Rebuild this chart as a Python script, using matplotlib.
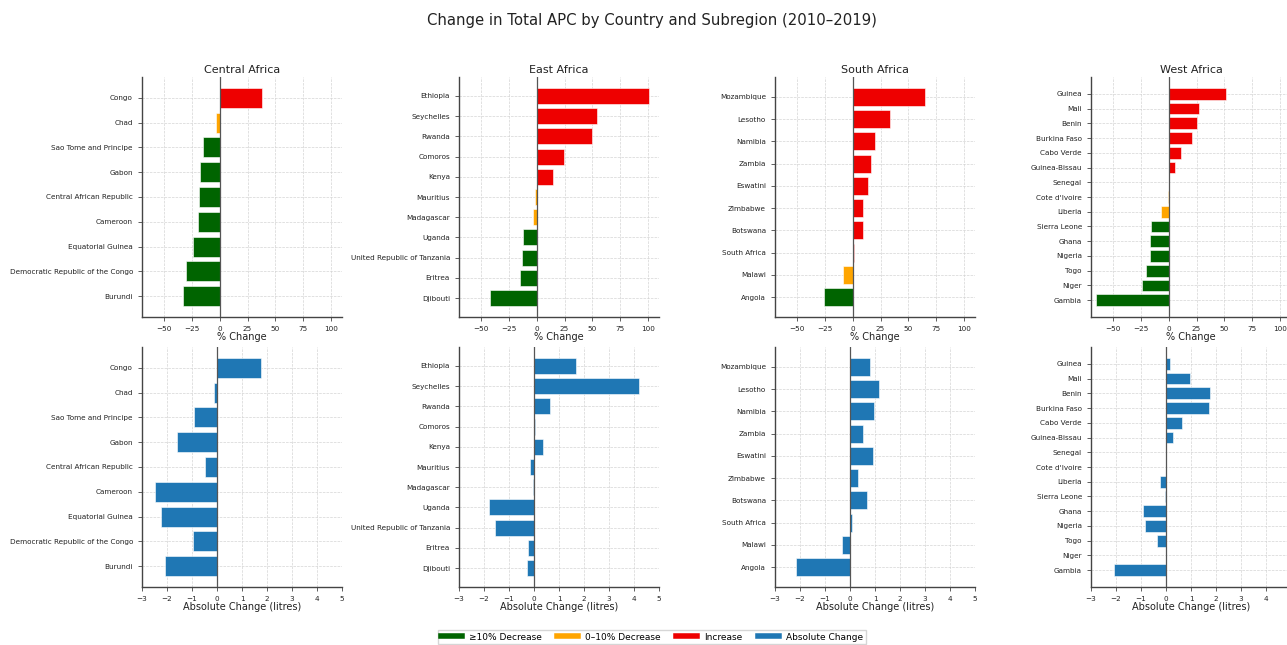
import matplotlib
matplotlib.use("Agg")
import matplotlib.pyplot as plt
from matplotlib.lines import Line2D

# subregion data, ordered as plotted (top to bottom)
regions = ["Central Africa", "East Africa", "South Africa", "West Africa"]

central_countries = ["Congo", "Chad", "Sao Tome and Principe", "Gabon", "Central African Republic",
                     "Cameroon", "Equatorial Guinea", "Democratic Republic of the Congo", "Burundi"]
central_pct = [37.6, -3.0, -15.0, -17.5, -18.7, -19.3, -23.8, -30.7, -32.8]
central_abs = [1.76, -0.14, -0.93, -1.60, -0.47, -2.49, -2.24, -0.96, -2.07]

east_countries = ["Ethiopia", "Seychelles", "Rwanda", "Comoros", "Kenya", "Mauritius", "Madagascar",
                  "Uganda", "United Republic of Tanzania", "Eritrea", "Djibouti"]
east_pct = [100.9, 54.2, 50.0, 24.7, 14.2, -1.8, -3.6, -12.7, -13.6, -15.0, -41.9]
east_abs = [1.67, 4.21, 0.63, 0.04, 0.35, -0.16, -0.04, -1.79, -1.56, -0.23, -0.29]

south_countries = ["Mozambique", "Lesotho", "Namibia", "Zambia", "Eswatini", "Zimbabwe", "Botswana",
                   "South Africa", "Malawi", "Angola"]
south_pct = [65.0, 33.7, 19.6, 16.3, 13.3, 9.6, 9.3, 0.9, -9.0, -25.9]
south_abs = [0.78, 1.15, 0.96, 0.53, 0.93, 0.31, 0.69, 0.08, -0.32, -2.18]

west_countries = ["Guinea", "Mali", "Benin", "Burkina Faso", "Cabo Verde", "Guinea-Bissau", "Senegal",
                  "Cote d'Ivoire", "Liberia", "Sierra Leone", "Ghana", "Nigeria", "Togo", "Niger", "Gambia"]
west_pct = [51.2, 27.4, 25.6, 20.5, 10.8, 6.0, 0.0, -0.5, -6.9, -16.0, -16.6, -16.9, -20.8, -23.8, -65.4]
west_abs = [0.16, 0.97, 1.77, 1.73, 0.65, 0.27, 0.0, 0.0, -0.24, -0.03, -0.91, -0.85, -0.36, -0.01, -2.07]

countries = [central_countries, east_countries, south_countries, west_countries]
pct_vals = [central_pct, east_pct, south_pct, west_pct]
abs_vals = [central_abs, east_abs, south_abs, west_abs]

GREEN = "#006400"
ORANGE = "#FFA500"
RED = "#EE0000"
BLUE = "#1f77b4"


def pct_color(v):
    if v <= -10:
        return GREEN
    if v < 0:
        return ORANGE
    return RED


def style_axes(ax):
    ax.grid(True, linestyle="--", color="#d4d4d4", linewidth=0.5)
    ax.set_axisbelow(True)
    for s in ["top", "right"]:
        ax.spines[s].set_visible(False)
    for s in ["left", "bottom"]:
        ax.spines[s].set_color("#444444")
        ax.spines[s].set_linewidth(1.0)
    ax.tick_params(labelsize=5.2, colors="#444444", labelcolor="#222222", length=3, width=0.6)
    ax.axvline(0, color="#555555", linewidth=0.9, zorder=3)


W, H = 1287, 645
fig = plt.figure(figsize=(W / 100, H / 100), dpi=100)
lefts = [142, 459, 775, 1091]
ax_w = 200
rows = [(77, 317), (347, 587)]

for i, region in enumerate(regions):
    names = countries[i]
    ypos = list(range(len(names)))

    t, b = rows[0]
    ax = fig.add_axes([lefts[i] / W, 1 - b / H, ax_w / W, (b - t) / H])
    ax.barh(ypos, pct_vals[i], color=[pct_color(v) for v in pct_vals[i]],
            edgecolor="white", linewidth=0.4, zorder=2)
    ax.set_yticks(ypos)
    ax.set_yticklabels(names)
    ax.invert_yaxis()
    ax.set_xlim(-70, 110)
    ax.set_xticks([-50, -25, 0, 25, 50, 75, 100])
    ax.set_xlabel("% Change", fontsize=7, labelpad=0, color="#222222")
    ax.set_title(region, fontsize=8, pad=3, color="#222222")
    style_axes(ax)

    t, b = rows[1]
    ax2 = fig.add_axes([lefts[i] / W, 1 - b / H, ax_w / W, (b - t) / H])
    ax2.barh(ypos, abs_vals[i], color=BLUE, edgecolor="white", linewidth=0.4, zorder=2)
    ax2.set_yticks(ypos)
    ax2.set_yticklabels(names)
    ax2.invert_yaxis()
    ax2.set_xlim(-3, 5)
    # the last panel runs off the right edge, so its "5" is never seen
    ax2.set_xticks(range(-3, 6) if i < 3 else range(-3, 5))
    ax2.set_xlabel("Absolute Change (litres)", fontsize=7, labelpad=0, color="#222222")
    style_axes(ax2)

fig.suptitle("Change in Total APC by Country and Subregion (2010\u20132019)", fontsize=10.7,
             x=652 / W, y=1 - 20 / H, va="center", color="#222222")

handles = [Line2D([0], [0], color=GREEN, lw=4),
           Line2D([0], [0], color=ORANGE, lw=4),
           Line2D([0], [0], color=RED, lw=4),
           Line2D([0], [0], color=BLUE, lw=4)]
labels = ["\u226510% Decrease", "0\u201310% Decrease", "Increase", "Absolute Change"]
fig.legend(handles, labels, loc="center", bbox_to_anchor=(652 / W, 1 - 637 / H), ncol=4,
           fontsize=6.5, frameon=True, fancybox=False, edgecolor="#cccccc",
           borderpad=0.3, columnspacing=1.7, handlelength=2.3)

fig.savefig("out.png", dpi=100)
